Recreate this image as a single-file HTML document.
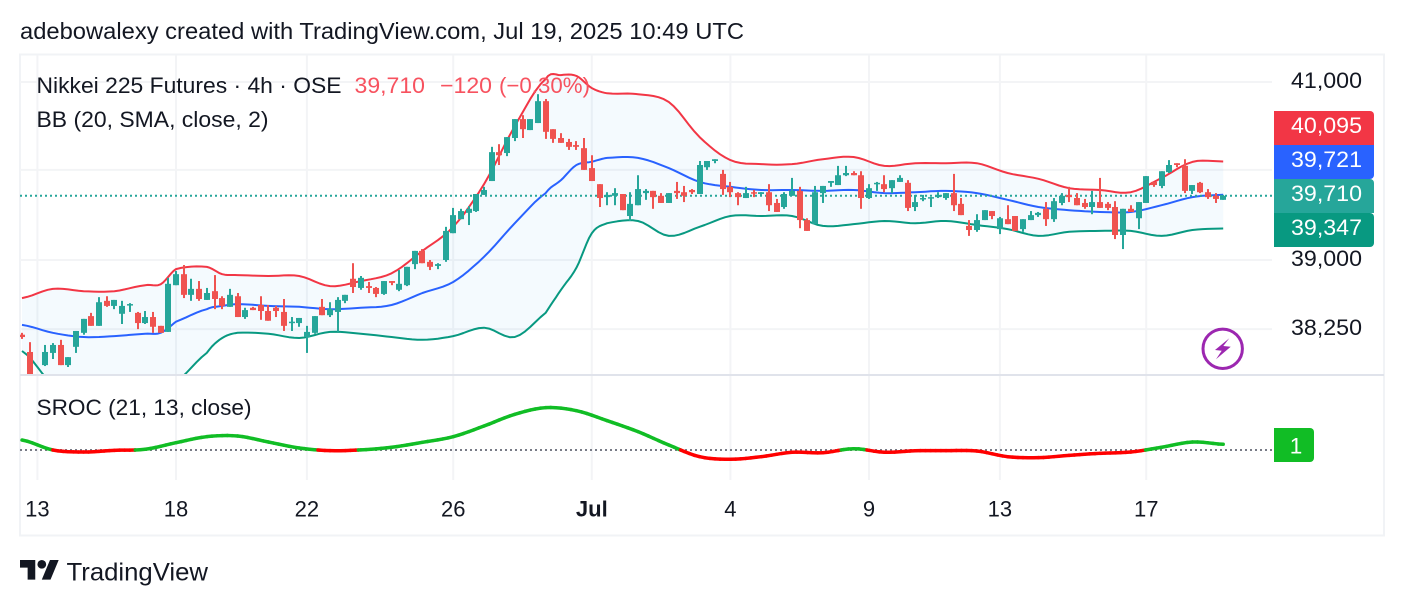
<!DOCTYPE html>
<html lang="en">
<head>
<meta charset="utf-8">
<title>Nikkei 225 Futures chart</title>
<style>
  html, body { margin: 0; padding: 0; background: #ffffff; }
  body { width: 1404px; height: 606px; overflow: hidden; }
  svg { display: block; font-family: "Liberation Sans", sans-serif; }
</style>
</head>
<body>
<svg id="chart" width="1404" height="606" viewBox="0 0 1404 606">
  <defs>
    <clipPath id="main-clip"><rect x="20" y="55" width="1252" height="320"></rect></clipPath>
  </defs>
  <rect x="0" y="0" width="1404" height="606" fill="#ffffff"></rect>
  <text x="20" y="39" font-size="23" fill="#131722" textLength="724" lengthAdjust="spacingAndGlyphs">adebowalexy created with TradingView.com, Jul 19, 2025 10:49 UTC</text>
  <rect x="20" y="54.5" width="1364" height="481" fill="none" stroke="#f1f3f6" stroke-width="2"></rect>

  <g id="grid-layer"></g>
  <g id="main-pane" clip-path="url(#main-clip)"></g>
  <line x1="20" y1="375" x2="1384" y2="375" stroke="#e0e3eb" stroke-width="2"></line>
  <g id="sroc-pane"></g>
  <g id="y-axis"></g>
  <g id="x-axis"></g>

  <g>
    <text x="36.5" y="93" font-size="22.5" fill="#131722" textLength="305" lengthAdjust="spacingAndGlyphs">Nikkei 225 Futures · 4h · OSE</text>
    <text x="354.5" y="93" font-size="22.5" fill="#f7525f" textLength="70.5" lengthAdjust="spacingAndGlyphs">39,710</text>
    <text x="440" y="93" font-size="22.5" fill="#f7525f" textLength="52" lengthAdjust="spacingAndGlyphs">−120</text>
    <text x="499" y="93" font-size="22.5" fill="#f7525f" textLength="91" lengthAdjust="spacingAndGlyphs">(−0.30%)</text>
    <text x="36.5" y="127" font-size="22.5" fill="#131722" textLength="232" lengthAdjust="spacingAndGlyphs">BB (20, SMA, close, 2)</text>
    <text x="36.5" y="415" font-size="22.5" fill="#131722" textLength="215" lengthAdjust="spacingAndGlyphs">SROC (21, 13, close)</text>
  </g>

  <g>
    <path d="M1274 111H1370a4 4 0 0 1 4 4V145H1274Z" fill="#f23645"></path>
    <text x="1291" y="133" font-size="22.5" fill="#ffffff" textLength="71" lengthAdjust="spacingAndGlyphs">40,095</text>
    <path d="M1274 145H1374V175a4 4 0 0 1 -4 4H1274Z" fill="#2962ff"></path>
    <text x="1291" y="167" font-size="22.5" fill="#ffffff" textLength="71" lengthAdjust="spacingAndGlyphs">39,721</text>
    <path d="M1274 179H1370a4 4 0 0 1 4 4V213H1274Z" fill="#26a69a"></path>
    <text x="1291" y="201" font-size="22.5" fill="#ffffff" textLength="71" lengthAdjust="spacingAndGlyphs">39,710</text>
    <path d="M1274 213H1370a4 4 0 0 1 4 4V243a4 4 0 0 1 -4 4H1274Z" fill="#089981"></path>
    <text x="1291" y="235" font-size="22.5" fill="#ffffff" textLength="71" lengthAdjust="spacingAndGlyphs">39,347</text>
    <path d="M1274 428H1310a4 4 0 0 1 4 4V458a4 4 0 0 1 -4 4H1274Z" fill="#11bd25"></path>
    <text x="1296" y="453.5" font-size="22.5" fill="#ffffff" text-anchor="middle">1</text>
  </g>

  <g>
    <circle cx="1222.7" cy="348.8" r="19.7" fill="#ffffff" stroke="#9c27b0" stroke-width="3"></circle>
    <polygon points="1229.3,338.3 1215,350 1221.7,350.7 1216,359.3 1230.7,346.7 1223.3,346" fill="#9c27b0"></polygon>
  </g>

  <g>
    <g transform="translate(20 555.6) scale(1.09)" fill="#131722">
      <path d="M14 22H7V11H0V4h14v18zM28 22h-8l7.5-18h8L28 22z"></path>
      <circle cx="20" cy="8" r="4"></circle>
    </g>
    <text x="66.5" y="580.5" font-size="25" fill="#131722" textLength="141.5" lengthAdjust="spacingAndGlyphs">TradingView</text>
  </g>
</svg>

<script>
const opens = [
38190,38005,37600,37865,37995,38080,37865,38060,38210,38390,
38285,38555,38500,38415,38510,38425,38315,38380,38285,38220,
38725,38845,38620,38685,38565,38660,38585,38490,38605,38380,
38480,38510,38445,38480,38435,38315,38315,38165,38210,38490,
38400,38435,38555,38795,38695,38715,38695,38630,38770,38675,
38725,38955,39100,38980,38935,39000,39295,39450,39520,39540,
39720,39875,40200,40190,40360,40575,40450,40530,40780,40460,
40360,40315,40280,40245,40020,39840,39695,39710,39730,39485,
39605,39740,39765,39710,39630,39765,39750,39775,39730,40030,
40100,39955,39810,39740,39685,39750,39730,39750,39630,39585,
39710,39765,39440,39395,39740,39855,39830,39940,39965,39940,
39685,39840,39840,39795,39865,39855,39585,39675,39685,39695,
39685,39740,39620,39375,39330,39440,39540,39340,39450,39485,
39340,39440,39495,39565,39450,39630,39720,39685,39630,39585,
39640,39620,39585,39275,39565,39460,39630,39865,39820,39975,
40075,40045,39765,39855,39750,39710,39665];

const highs = [
38210,38110,37730,38080,38100,38135,37950,38230,38360,38425,
38595,38605,38565,38555,38530,38435,38445,38435,38285,38805,
38880,38945,38795,38770,38695,38835,38605,38685,38640,38480,
38490,38605,38510,38500,38575,38380,38370,38285,38390,38575,
38540,38595,38620,38965,38825,38760,38705,38770,38770,38890,
38925,39100,39120,39000,38965,39365,39575,39565,39595,39730,
39810,40260,40290,40370,40575,40620,40575,40860,40805,40460,
40415,40350,40325,40360,40165,39840,39750,39795,39730,39750,
39940,39785,39765,39740,39740,39865,39820,39785,40100,40100,
40120,40000,39865,39750,39810,39775,39750,39840,39675,39750,
39910,39810,39460,39820,39820,39875,40045,40045,39985,39985,
39840,39865,39940,39885,39940,39885,39720,39720,39695,39750,
39740,39955,39685,39440,39505,39550,39540,39475,39605,39485,
39450,39540,39530,39640,39685,39740,39810,39740,39675,39765,
39910,39640,39650,39565,39605,39640,39930,39865,39985,40110,
40075,40120,39830,39865,39785,39740,39720];

const lows = [
38145,37550,37550,37855,37930,37865,37845,37995,38190,38285,
38285,38490,38465,38305,38435,38250,38305,38210,38210,38220,
38725,38585,38555,38555,38565,38465,38465,38490,38380,38360,
38455,38350,38340,38380,38230,38230,38275,37995,38200,38400,
38380,38220,38530,38640,38675,38640,38595,38620,38725,38660,
38715,38900,38965,38890,38900,38980,39295,39450,39385,39530,
39720,39875,40055,40155,40325,40360,40450,40530,40350,40305,
40305,40225,40225,40000,39875,39585,39605,39605,39550,39430,
39605,39665,39565,39630,39630,39675,39640,39730,39730,40000,
40075,39720,39695,39605,39685,39695,39720,39540,39530,39565,
39710,39350,39320,39395,39630,39810,39830,39930,39940,39565,
39675,39765,39750,39740,39865,39540,39540,39650,39585,39685,
39665,39540,39495,39265,39310,39440,39450,39285,39395,39320,
39310,39440,39475,39375,39420,39605,39640,39605,39565,39505,
39575,39550,39230,39120,39530,39340,39630,39810,39795,39965,
40030,39740,39730,39740,39675,39630,39665];

const closes = [
38165,37655,37730,38005,38080,37865,37950,38230,38360,38285,
38540,38500,38565,38500,38520,38315,38380,38275,38210,38740,
38845,38620,38685,38575,38640,38575,38500,38620,38380,38455,
38455,38445,38340,38445,38285,38330,38370,38220,38390,38400,
38465,38565,38620,38705,38805,38695,38630,38770,38750,38740,
38925,39100,38965,38925,38955,39320,39495,39540,39565,39730,
39775,40200,40165,40370,40575,40460,40575,40780,40430,40350,
40305,40260,40260,40000,39875,39685,39720,39740,39550,39620,
39785,39765,39695,39630,39740,39740,39710,39750,40055,40100,
40120,39785,39750,39695,39740,39740,39750,39605,39530,39730,
39765,39440,39320,39750,39820,39875,39940,39965,39940,39685,
39795,39855,39785,39885,39910,39575,39640,39685,39695,39720,
39740,39605,39495,39330,39440,39550,39485,39460,39395,39320,
39450,39495,39520,39450,39650,39710,39695,39605,39585,39640,
39575,39575,39275,39565,39530,39640,39930,39830,39985,40055,
40055,39765,39830,39750,39695,39675,39710];

const bandBars = [0,4,8,12,16,18,20,24,26,28,32,36,40,44,48,52,56,60,64,68,70,72,74,76,80,84,88,92,96,100,104,108,112,116,120,124,128,132,136,140,144,148,152,156];

const bbUpper = [38585,38685,38660,38660,38725,38735,38900,38925,38845,38835,38825,38825,38715,38770,38855,39100,39365,39840,40495,41035,41080,41070,40930,40870,40860,40770,40370,40110,40065,40065,40120,40145,40045,40075,40075,40075,39965,39900,39795,39775,39750,39910,40090,40095];

const bbMiddle = [38295,38210,38165,38175,38200,38210,38330,38465,38500,38520,38500,38490,38465,38480,38510,38640,38760,39035,39405,39740,39885,40055,40092,40135,40135,40020,39865,39810,39775,39775,39765,39775,39740,39750,39765,39740,39665,39585,39550,39530,39530,39605,39695,39721];

const bbLower = [38015,37655,37495,37445,37495,37550,37685,37995,38155,38210,38200,38155,38220,38200,38165,38135,38175,38265,38165,38425,38675,38915,39295,39405,39430,39265,39365,39485,39485,39485,39375,39395,39430,39405,39430,39385,39340,39265,39310,39320,39320,39265,39330,39347];

const srocBars = [0,4,8,12,16,20,24,28,32,36,40,44,48,52,56,60,64,68,72,76,80,84,88,92,96,100,104,108,112,116,120,124,128,132,136,140,144,148,152,156];

const srocValues = [1.54,0,-0.31,-0.05,0.11,1.12,2.05,2.15,1.23,0.31,-0.1,0.02,0.42,1.18,2.05,3.69,5.49,6.51,6.05,4.51,2.82,0.77,-1.03,-1.43,-1.03,-0.35,-0.42,0.2,-0.35,-0.12,-0.1,-0.15,-1.03,-1.18,-0.82,-0.51,-0.31,0.42,1.23,0.88];

const gridPrices = [41000,40000,39000,38250];
const priceTickLabels = ["41,000","","39,000","38,250"];
const timeBars = [2,20,37,56,74,92,110,127,146];
const timeLabels = ["13","18","22","26","Jul","4","9","13","17"];
const lastPrice = 39710;

const svg = document.getElementById('chart');
const gridLayer = document.getElementById('grid-layer');
const mainPane = document.getElementById('main-pane');
const srocPane = document.getElementById('sroc-pane');
const yAxis = document.getElementById('y-axis');
const xAxis = document.getElementById('x-axis');

function xBar(i) { return 22 + 7.7 * i; }
function yPrice(p) { return 260 + 3559 * Math.log(39000 / p); }
function ySroc(v) { return 450 - 6.5 * v; }

function mk(tag, parent, props) {
  const el = document.createElementNS(svg.namespaceURI, tag);
  Object.keys(props).forEach(function (k) { el.setAttribute(k, props[k]); });
  parent.appendChild(el);
  return el;
}

/* rendering only: draws a smooth curve through the read values */
function curve(bars, values) {
  const out = [];
  const n = values.length;
  const steps = 6;
  for (let i = 0; i < n - 1; i++) {
    const p0 = values[Math.max(0, i - 1)], p1 = values[i], p2 = values[i + 1], p3 = values[Math.min(n - 1, i + 2)];
    const x1 = xBar(bars[i]), x2 = xBar(bars[i + 1]);
    for (let s = 0; s < steps; s++) {
      const t = s / steps;
      const v = 0.5 * (2 * p1 + (p2 - p0) * t + (2 * p0 - 5 * p1 + 4 * p2 - p3) * t * t + (3 * p1 - p0 - 3 * p2 + p3) * t * t * t);
      out.push([x1 + (x2 - x1) * t, v]);
    }
  }
  out.push([xBar(bars[n - 1]), values[n - 1]]);
  return out;
}
function pricePoints(bars, values) {
  return curve(bars, values).map(function (pt) { return pt[0].toFixed(1) + ',' + yPrice(pt[1]).toFixed(1); });
}

/* horizontal gridlines and price ticks */
gridPrices.forEach(function (p, i) {
  const y = yPrice(p);
  const line = mk('line', gridLayer, { x1: 20, x2: 1272, y1: y, y2: y, stroke: '#f3f4f6', 'stroke-width': 2 });
  
  
  if (priceTickLabels[i]) {
    const t = mk('text', yAxis, { x: 1291, y: y + 6, 'font-size': 22.5, fill: '#131722', textLength: 71, lengthAdjust: 'spacingAndGlyphs' });
    t.textContent = priceTickLabels[i];
    
    
  }
});

/* vertical gridlines and time labels */
timeBars.forEach(function (b, i) {
  const x = xBar(b);
  const line = mk('line', gridLayer, { x1: x, x2: x, y1: 55, y2: 480, stroke: '#f3f4f6', 'stroke-width': 2 });
  
  
  const t = mk('text', xAxis, { x: x, y: 516.5, 'font-size': 22, fill: '#131722', 'text-anchor': 'middle', 'font-weight': timeLabels[i] === 'Jul' ? 'bold' : 'normal' });
  t.textContent = timeLabels[i];
  
  
});

/* Bollinger band fill and lines */
const upperPts = pricePoints(bandBars, bbUpper);
const middlePts = pricePoints(bandBars, bbMiddle);
const lowerPts = pricePoints(bandBars, bbLower);

const bandFill = mk('polygon', mainPane, { points: upperPts.concat(lowerPts.slice().reverse()).join(' '), fill: 'rgba(33,150,243,0.05)' });



const upperLine = mk('polyline', mainPane, { points: upperPts.join(' '), fill: 'none', stroke: '#f23645', 'stroke-width': 2, 'stroke-linejoin': 'round' });



const lowerLine = mk('polyline', mainPane, { points: lowerPts.join(' '), fill: 'none', stroke: '#089981', 'stroke-width': 2, 'stroke-linejoin': 'round' });



const middleLine = mk('polyline', mainPane, { points: middlePts.join(' '), fill: 'none', stroke: '#2962ff', 'stroke-width': 2, 'stroke-linejoin': 'round' });



/* last price dotted line */
const lastLine = mk('line', mainPane, { x1: 20, x2: 1272, y1: yPrice(lastPrice), y2: yPrice(lastPrice), stroke: '#26a69a', 'stroke-width': 2, 'stroke-dasharray': '2 3' });



/* candles */
opens.forEach(function (open, i) {
  const close = closes[i];
  const up = close >= open;
  const color = up ? '#26a69a' : '#ef5350';
  const x = Math.round(xBar(i));
  const top = yPrice(Math.max(open, close));
  const bottom = yPrice(Math.min(open, close));
  const wick = mk('rect', mainPane, { x: x - 1, y: yPrice(highs[i]), width: 2, height: Math.max(0, yPrice(lows[i]) - yPrice(highs[i])), fill: color });
  
  
  const body = mk('rect', mainPane, { x: x - 3, y: top, width: 6, height: Math.max(1.5, bottom - top), fill: color });
  
  
});

/* SROC pane */
const zeroLine = mk('line', srocPane, { x1: 20, x2: 1272, y1: ySroc(0), y2: ySroc(0), stroke: '#787b86', 'stroke-width': 2, 'stroke-dasharray': '2 3' });



function srocSegment(x1, v1, x2, v2) {
  const seg = mk('line', srocPane, { x1: x1, y1: ySroc(v1), x2: x2, y2: ySroc(v2), stroke: (v1 + v2) >= 0 ? '#11bd25' : '#ff0000', 'stroke-width': 3.5, 'stroke-linecap': 'round' });
  
  
}
const srocCurve = curve(srocBars, srocValues);
srocCurve.forEach(function (pt, i) {
  if (i === 0) { return; }
  const prev = srocCurve[i - 1];
  if (prev[1] * pt[1] < 0) {
    const xc = prev[0] + (pt[0] - prev[0]) * (Math.abs(prev[1]) / (Math.abs(prev[1]) + Math.abs(pt[1])));
    srocSegment(prev[0], prev[1], xc, 0);
    srocSegment(xc, 0, pt[0], pt[1]);
  } else {
    srocSegment(prev[0], prev[1], pt[0], pt[1]);
  }
});
</script>
</body>
</html>
